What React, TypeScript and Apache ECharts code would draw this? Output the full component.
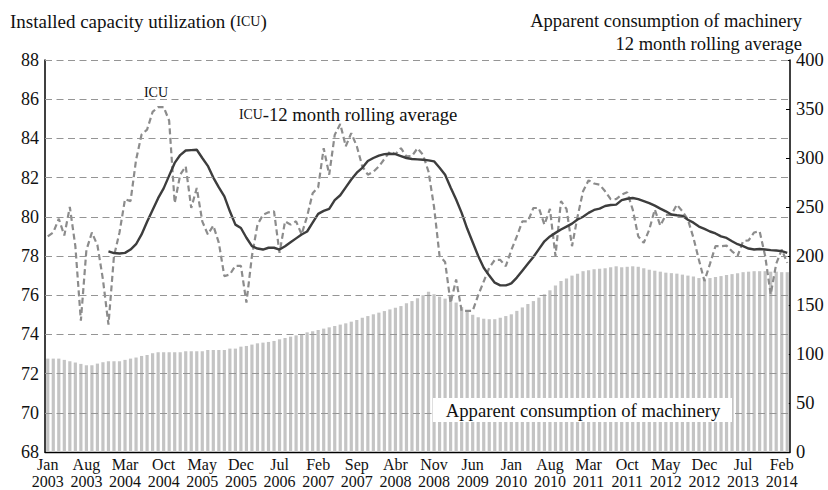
import React, { useEffect, useRef } from 'react';
import * as echarts from 'echarts';

const monthNames = ['Jan', 'Feb', 'Mar', 'Abr', 'May', 'Jun', 'Jul', 'Aug', 'Sep', 'Oct', 'Nov', 'Dec'];
const startYear = 2003;
const monthCount = 135;
const categories = Array.from({ length: monthCount }, (_, i) => `${monthNames[i % 12]}\n${startYear + Math.floor(i / 12)}`);

const leftTicks = [68, 88, 2];
const rightTicks = [0, 400, 50];
const gridValues = [70, 72, 74, 76, 78, 80, 82, 84, 86, 88];

// Apparent consumption of machinery, 12 month rolling average (right axis)
const machinery = [
  95.3, 95.3, 95.3, 94, 92.6, 91.3, 89.9, 88.5, 88.5, 90.2,
  91.6, 92.6, 92.6, 92.6, 94, 95.3, 96.4, 98, 99, 100.8,
  101.8, 101.8, 101.8, 101.8, 101.8, 102.8, 102.8, 102.8, 102.8, 104.1,
  104.1, 104.1, 104.1, 105.5, 105.5, 107.5, 108.2, 109.6, 110.9, 111.6,
  112.3, 113.3, 115, 116.3, 117.7, 119, 120.4, 122.1, 123.2, 124.5,
  125.9, 127.2, 128.6, 130, 131.3, 133, 134.7, 137, 138.7, 140.5,
  142.2, 143.8, 145.5, 147.3, 148.9, 151.7, 154, 157, 160, 163.5,
  161, 158.5, 156.5, 155.5, 152.5, 148, 144, 140, 137.5, 136,
  135.5, 135.5, 137, 138.7, 140.5, 144, 147.5, 151, 154, 157.5,
  161, 165, 170, 174.5, 177, 180, 182, 184.5, 185.5, 186.5,
  187, 187.5, 188.5, 189.5, 188.5, 189, 189.5, 189, 187.5, 186,
  185, 184, 183, 182.5, 182, 181, 180, 179, 177.5, 177,
  177.5, 178.5, 179.5, 180.5, 181.5, 182.5, 183.5, 184, 184.5, 184.5,
  184.5, 184, 184, 183.5, 183.5,
];

// Installed capacity utilization (left axis)
const icu = [
  79.0, 79.2, 79.9, 79.05, 80.5, 78.5, 74.7, 78.3, 79.2, 78.55,
  76.8, 74.5, 78.0, 79.2, 80.9, 80.8, 82.9, 84.2, 84.45, 85.35,
  85.6, 85.6, 84.9, 80.7, 82.15, 82.57, 80.45, 81.47, 79.77, 79.1,
  79.55, 78.67, 76.97, 77.06, 77.5, 77.5, 75.62, 78.0, 79.6, 80.1,
  80.23, 80.28, 78.16, 79.77, 79.6, 79.77, 79.1, 80.03, 81.2, 81.5,
  83.5, 82.15, 84.18, 84.74, 83.6, 84.27, 83.6, 82.57, 82.15, 82.3,
  82.57, 82.95, 83.33, 83.2, 83.5, 83.08, 83.1, 83.5, 83.16, 82.3,
  80.5, 78.0, 77.7, 75.6, 76.8, 75.2, 75.2, 75.2, 76.0, 76.7,
  77.4, 77.8, 77.8, 77.48, 78.3, 79.0, 79.77, 79.77, 80.45, 80.45,
  79.6, 80.4, 78.0, 80.8, 80.4, 78.5, 80.0, 81.3, 81.86, 81.7,
  81.64, 81.3, 80.9, 80.9, 81.13, 81.25, 80.37, 79.0, 78.67, 79.35,
  80.37, 79.55, 80.1, 80.1, 80.62, 80.28, 79.86, 78.93, 77.8, 76.72,
  77.6, 78.5, 78.5, 78.53, 78.24, 78.0, 78.76, 78.8, 79.2, 79.26,
  78.0, 76.04, 77.6, 78.33, 77.65,
];

// ICU 12 month rolling average (left axis), starts Dec 2003
const icuRolling = [
  null, null, null, null, null, null, null, null, null, null,
  null, 78.24, 78.15, 78.13, 78.16, 78.33, 78.6, 79.1, 79.75, 80.35,
  80.95, 81.45, 82.1, 82.75, 83.15, 83.38, 83.4, 83.42, 83.0, 82.6,
  82.0, 81.5, 81.04, 80.28, 79.6, 79.43, 78.93, 78.5, 78.38, 78.33,
  78.42, 78.42, 78.33, 78.5, 78.7, 78.9, 79.1, 79.25, 79.7, 80.15,
  80.3, 80.4, 80.85, 81.1, 81.5, 81.9, 82.25, 82.5, 82.85, 83.0,
  83.12, 83.2, 83.22, 83.2, 83.1, 83.0, 82.95, 82.93, 82.91, 82.88,
  82.83, 82.5, 82.15, 81.5, 80.88, 80.2, 79.4, 78.7, 78.0, 77.4,
  77.0, 76.64, 76.5, 76.5, 76.6, 76.9, 77.25, 77.6, 77.95, 78.35,
  78.75, 79.0, 79.18, 79.35, 79.5, 79.65, 79.86, 80.0, 80.2, 80.35,
  80.42, 80.55, 80.6, 80.62, 80.85, 80.92, 80.96, 80.9, 80.8, 80.7,
  80.57, 80.42, 80.28, 80.12, 80.08, 80.05, 79.85, 79.7, 79.5, 79.38,
  79.25, 79.15, 79.0, 78.92, 78.75, 78.6, 78.5, 78.38, 78.33, 78.36,
  78.33, 78.3, 78.28, 78.25, 78.16,
];

const FONT = '"Liberation Serif", "DejaVu Serif", serif';

export default function App() {
  const ref = useRef<HTMLDivElement>(null);
  useEffect(() => {
    document.body.style.margin = '0';
    const chart = echarts.init(ref.current!, null, { renderer: 'svg' });
    const option: any = {
      animation: false,
      backgroundColor: '#fff',
      textStyle: { fontFamily: FONT },
      grid: { left: 45, right: 38, top: 60, bottom: 37, containLabel: false },
      xAxis: {
        type: 'category',
        data: categories,
        boundaryGap: true,
        axisLine: { lineStyle: { color: '#000', width: 1.3 } },
        axisTick: { inside: true, length: 4, interval: 6, lineStyle: { color: '#000' } },
        axisLabel: { interval: 6, fontSize: 16, lineHeight: 17, color: '#111', margin: 4, fontFamily: FONT },
        splitLine: { show: false },
      },
      yAxis: [
        {
          type: 'value',
          min: leftTicks[0], max: leftTicks[1], interval: leftTicks[2],
          axisLine: { show: true, lineStyle: { color: '#000', width: 1.5 } },
          axisTick: { show: true, inside: true, length: 4, lineStyle: { color: '#000' } },
          axisLabel: { fontSize: 18, color: '#111', margin: 6, fontFamily: FONT },
          splitLine: { show: false },
        },
        {
          type: 'value',
          min: rightTicks[0], max: rightTicks[1], interval: rightTicks[2],
          position: 'right',
          axisLine: { show: true, lineStyle: { color: '#000', width: 1.5 } },
          axisTick: { show: true, inside: true, length: 4, lineStyle: { color: '#000' } },
          axisLabel: { fontSize: 18.5, color: '#111', margin: 6, fontFamily: FONT },
          splitLine: { show: false },
        },
      ],
      series: [
        {
          name: 'Apparent consumption of machinery',
          type: 'bar',
          yAxisIndex: 1,
          data: machinery,
          barWidth: '58%',
          itemStyle: { color: '#c4c4c4' },
          z: 1,
        },
        {
          name: 'grid',
          type: 'line',
          yAxisIndex: 0,
          data: [],
          z: 2,
          silent: true,
          markLine: {
            silent: true,
            symbol: 'none',
            label: { show: false },
            lineStyle: { type: [7, 4.5], color: '#959595', width: 1.2 },
            data: gridValues.map((v) => ({ yAxis: v })),
          },
        },
        {
          name: 'ICU',
          type: 'line',
          yAxisIndex: 0,
          data: icu,
          showSymbol: false,
          symbol: 'none',
          lineStyle: { color: '#8c8c8c', width: 2.2, type: [6, 3.5] },
          z: 3,
        },
        {
          name: 'ICU-12 month rolling average',
          type: 'line',
          yAxisIndex: 0,
          data: icuRolling,
          showSymbol: false,
          symbol: 'none',
          lineStyle: { color: '#3d3d3d', width: 2.4 },
          z: 4,
        },
      ],
      graphic: [
        {
          type: 'text', x: 10, y: 21, z: 100,
          style: {
            text: '{a|Installed capacity utilization (}{s|ICU}{a|)}',
            verticalAlign: 'middle',
            rich: {
              a: { fontSize: 19, fontFamily: FONT, fill: '#111' },
              s: { fontSize: 14, fontFamily: FONT, fill: '#111' },
            },
          },
        },
        {
          type: 'text', x: 802, y: 21, z: 100,
          style: { text: 'Apparent consumption of machinery', fontSize: 18.5, fontFamily: FONT, fill: '#111', align: 'right', verticalAlign: 'middle' },
        },
        {
          type: 'text', x: 802, y: 44, z: 100,
          style: { text: '12 month rolling average', fontSize: 18.5, fontFamily: FONT, fill: '#111', align: 'right', verticalAlign: 'middle' },
        },
        {
          type: 'text', x: 156, y: 92, z: 100,
          style: { text: 'ICU', fontSize: 14, fontFamily: FONT, fill: '#111', align: 'center', verticalAlign: 'middle' },
        },
        {
          type: 'text', x: 239, y: 114, z: 100,
          style: {
            text: '{s|ICU}{a|-12 month rolling average}',
            verticalAlign: 'middle',
            rich: {
              a: { fontSize: 18.7, fontFamily: FONT, fill: '#111' },
              s: { fontSize: 13.8, fontFamily: FONT, fill: '#111' },
            },
          },
        },
        {
          type: 'rect', z: 100,
          shape: { x: 433, y: 398, width: 299, height: 24 },
          style: { fill: '#fff' },
        },
        {
          type: 'text', x: 583, y: 410, z: 101,
          style: { text: 'Apparent consumption of machinery', fontSize: 18.7, fontFamily: FONT, fill: '#111', align: 'center', verticalAlign: 'middle' },
        },
      ],
    };
    chart.setOption(option);
    return () => chart.dispose();
  }, []);
  return <div ref={ref} style={{ width: 828, height: 490 }} />;
}
